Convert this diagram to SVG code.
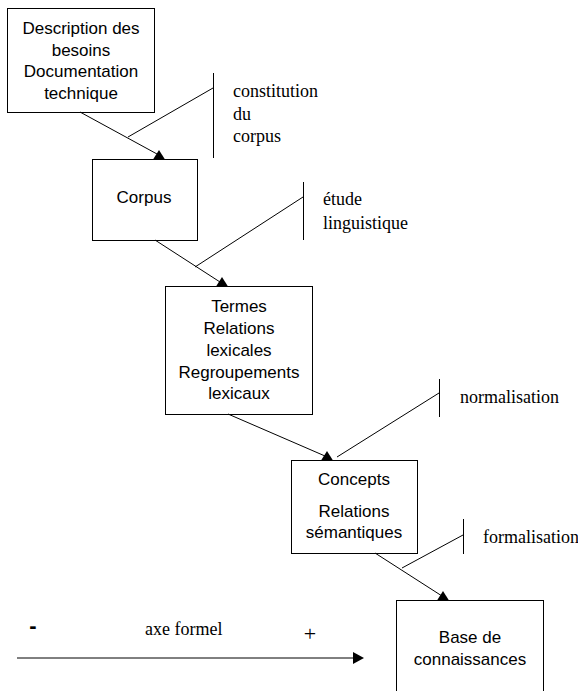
<svg xmlns="http://www.w3.org/2000/svg" width="578" height="691" viewBox="0 0 578 691">
<style>
.box{fill:#fff;stroke:#000;stroke-width:1}
.n{font-family:"Liberation Sans",Arial,sans-serif;font-size:17px;fill:#000;text-anchor:middle}
.l{font-family:"Liberation Serif","Times New Roman",serif;font-size:18px;fill:#000}
.c line{stroke:#000;stroke-width:1}
.c polygon{fill:#000}
</style>
<rect width="578" height="691" fill="#fff"/>
<g id="n1">
<rect class="box" x="7.5" y="8.5" width="147" height="104"/>
<text class="n" x="81" y="34">Description des</text>
<text class="n" x="81" y="56">besoins</text>
<text class="n" x="81" y="77">Documentation</text>
<text class="n" x="81" y="99">technique</text>
</g>
<g id="n2">
<rect class="box" x="92.5" y="159.5" width="105" height="81"/>
<text class="n" x="144" y="203">Corpus</text>
</g>
<g id="n3">
<rect class="box" x="165.5" y="286.5" width="147" height="128"/>
<text class="n" x="239" y="312">Termes</text>
<text class="n" x="239" y="334">Relations</text>
<text class="n" x="239" y="356">lexicales</text>
<text class="n" x="239" y="378">Regroupements</text>
<text class="n" x="239" y="399">lexicaux</text>
</g>
<g id="n4">
<rect class="box" x="291.5" y="460.5" width="126" height="93"/>
<text class="n" x="354" y="485">Concepts</text>
<text class="n" x="354" y="517">Relations</text>
<text class="n" x="354" y="538">sémantiques</text>
</g>
<g id="n5">
<rect class="box" x="396.5" y="600.5" width="147" height="100"/>
<text class="n" x="470" y="643">Base de</text>
<text class="n" x="470" y="665">connaissances</text>
</g>
<g id="connectors" class="c">
<line x1="80" y1="112" x2="157" y2="154"/>
<polygon points="159,150 153,159.5 165,159.5"/>
<line x1="128" y1="137" x2="213" y2="88"/>
<line x1="213.5" y1="73" x2="213.5" y2="158"/>

<line x1="155" y1="240" x2="220" y2="282"/>
<polygon points="222,277 216,286.5 228,286.5"/>
<line x1="195" y1="267" x2="303" y2="197"/>
<line x1="303.5" y1="182" x2="303.5" y2="240"/>

<line x1="228" y1="414" x2="325" y2="456"/>
<polygon points="327,451 321,460.5 333,460.5"/>
<line x1="337" y1="457" x2="439" y2="393"/>
<line x1="439.5" y1="379" x2="439.5" y2="417"/>

<line x1="375" y1="553" x2="442" y2="596"/>
<polygon points="443,591 437,600.5 449,600.5"/>
<line x1="402" y1="568" x2="463" y2="535"/>
<line x1="463.5" y1="519" x2="463.5" y2="554"/>

<line x1="17" y1="658" x2="354" y2="658"/>
<polygon points="364,658 353,652 353,664"/>
</g>
<g id="labels">
<text class="l" x="233" y="97">constitution</text>
<text class="l" x="233" y="120">du</text>
<text class="l" x="233" y="142">corpus</text>
<text class="l" x="323" y="205">étude</text>
<text class="l" x="323" y="229">linguistique</text>
<text class="l" x="460" y="403">normalisation</text>
<text class="l" x="483" y="543">formalisation</text>
<text class="l" x="145" y="635">axe formel</text>
<text x="33" y="633" style="font-family:'Liberation Sans',Arial,sans-serif;font-size:22px;font-weight:bold;text-anchor:middle">-</text>
<text x="310" y="641" style="font-family:'Liberation Serif','Times New Roman',serif;font-size:22px;text-anchor:middle">+</text>
</g>
</svg>
